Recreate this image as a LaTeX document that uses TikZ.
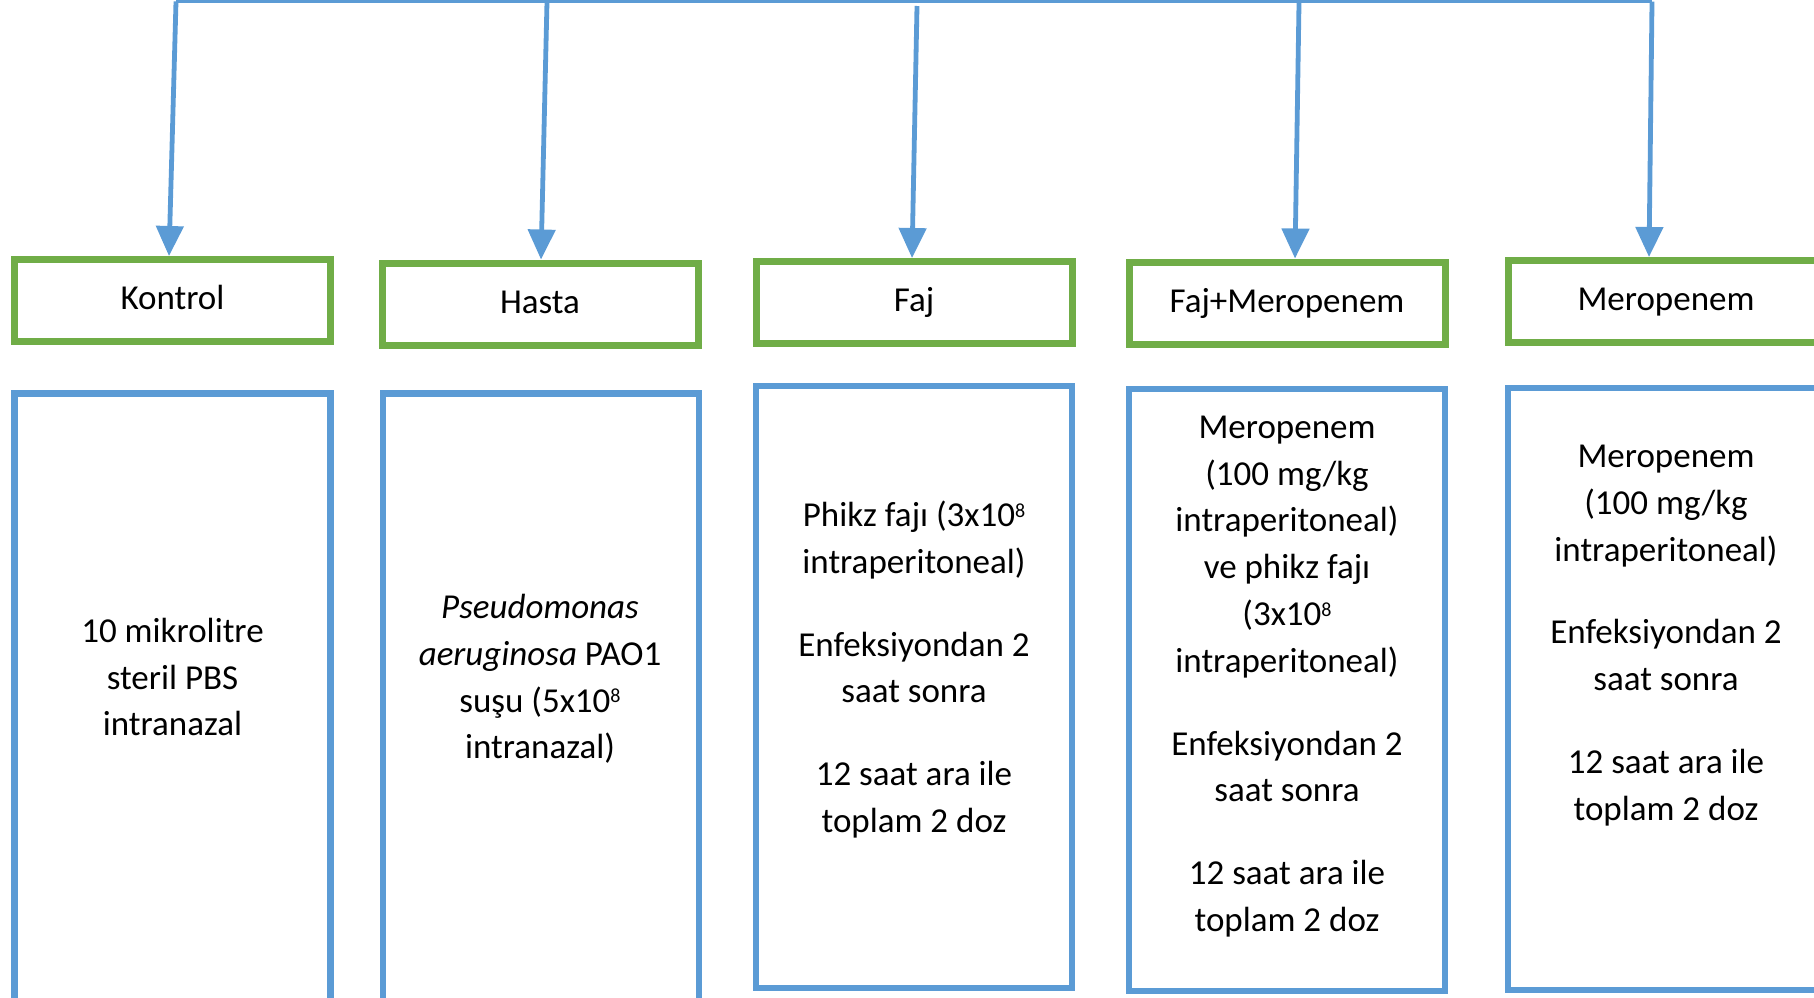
\documentclass[tikz,border=0pt]{standalone}
\usepackage{fontspec}
\setmainfont{Carlito}
\usetikzlibrary{arrows.meta}
\definecolor{gbox}{HTML}{70AD47}
\definecolor{bbox}{HTML}{5B9BD5}
\newcommand{\eightsup}{\raisebox{0.55ex}{\fontsize{10pt}{10pt}\selectfont 8}}
\begin{document}
\begin{tikzpicture}[x=0.5pt,y=-0.5pt,
  hdr/.style={draw=gbox, line width=3.5pt, minimum width=158pt, minimum height=41pt, inner sep=0pt,
    font=\fontsize{17.5pt}{23.4pt}\selectfont, text height=12.5pt, text depth=3.5pt},
  body/.style={draw=bbox, line width=3.2pt, minimum width=158pt, inner sep=0pt},
  txt/.style={align=center, font=\fontsize{17.5pt}{23.4pt}\selectfont, inner sep=0pt},
  link/.style={draw=bbox, line width=2.4pt, -{Triangle[length=15pt,width=13.5pt]}},
  bus/.style={draw=bbox, line width=1.2pt}]
\useasboundingbox (0,0) rectangle (1814,997);
\clip (0,0) rectangle (1814,997);

% header boxes
\node[hdr] (k)  at (172.5,300.5) {Kontrol};
\node[hdr] (h)  at (540,304)     {Hasta};
\node[hdr] (f)  at (914,302.5)   {Faj};
\node[hdr] (fm) at (1287,303)    {Faj+Meropenem};
\node[hdr] (m)  at (1666,301.5)  {Meropenem};

% body boxes
\node[body, minimum height=312pt] (b1) at (172.5,705.5) {};
\node[body, minimum height=312pt] (b2) at (541,705.5)   {};
\node[body, minimum height=301pt] (b3) at (914,687)     {};
\node[body, minimum height=301pt] (b4) at (1287,690)    {};
\node[body, minimum height=301pt] (b5) at (1666,689)    {};

% body texts
\node[txt] (t1) at (172.5,677) {10 mikrolitre\\steril PBS\\intranazal};
\node[txt] (t2) at (540,679) {\textit{Pseudomonas}\\\textit{aeruginosa} PAO1\\suşu (5x10\eightsup\\intranazal)};
\node[txt] (t3) at (914,669.5) {Phikz fajı (3x10\eightsup\\intraperitoneal)\\[18pt]Enfeksiyondan 2\\saat sonra\\[18pt]12 saat ara ile\\toplam 2 doz};
\node[txt] (t4) at (1287,676.5) {Meropenem\\(100 mg/kg\\intraperitoneal)\\ve phikz fajı\\(3x10\eightsup\\intraperitoneal)\\[18pt]Enfeksiyondan 2\\saat sonra\\[18pt]12 saat ara ile\\toplam 2 doz};
\node[txt] (t5) at (1666,635.5) {Meropenem\\(100 mg/kg\\intraperitoneal)\\[18pt]Enfeksiyondan 2\\saat sonra\\[18pt]12 saat ara ile\\toplam 2 doz};

% connectors
\coordinate (tl) at (176,1.5);
\coordinate (tr) at (1652,1.5);
\coordinate (ha) at (547,1.5);
\coordinate (fa) at (917,6);
\coordinate (fma) at (1299,3);
\draw[bus] (tl) -- (tr);
\draw[link] (tl)  -- ([xshift=-1.75pt]k.north);
\draw[link] (ha)  -- ([xshift=0.5pt]h.north);
\draw[link] (fa)  -- ([xshift=-1pt]f.north);
\draw[link] (fma) -- ([xshift=4pt]fm.north);
\draw[link] (tr)  -- ([xshift=-8.5pt]m.north);
\end{tikzpicture}
\end{document}
